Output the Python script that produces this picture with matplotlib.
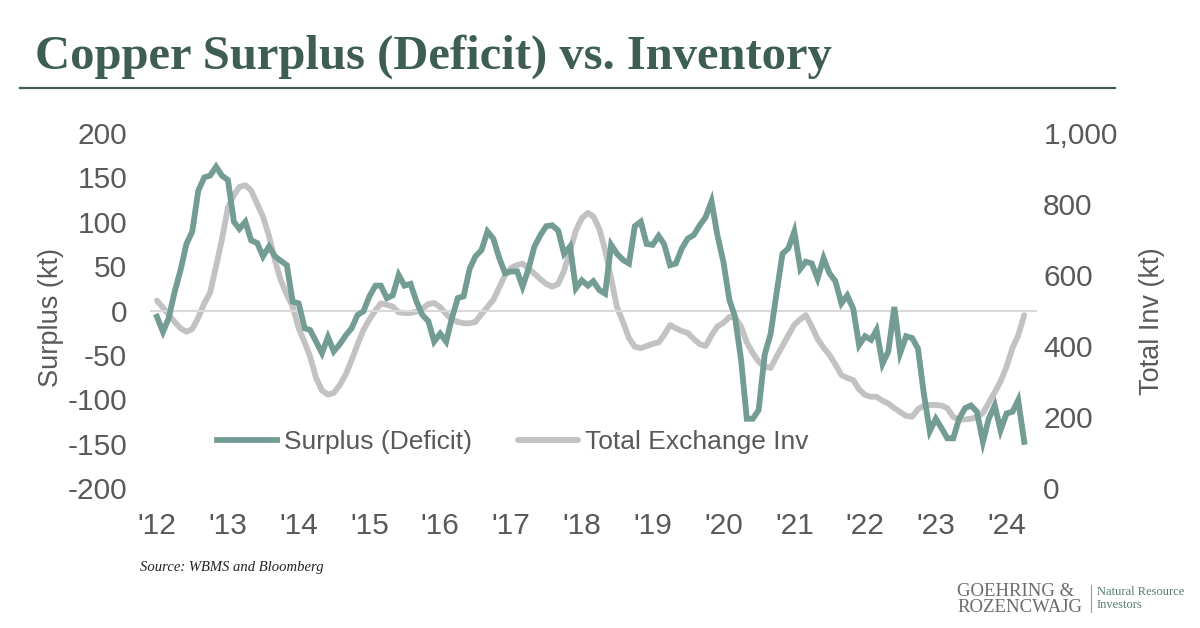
import numpy as np
import pandas as pd
import matplotlib
matplotlib.use("Agg")
import matplotlib.pyplot as plt

# monthly copper balance (kt), Jan 2012 - Apr 2024
surplus = [
    -7, -24, -9, 21, 45, 75, 89, 135, 150, 152, 162, 152,
    147, 100, 92, 100, 79, 76, 61, 72, 61, 56, 51, 10,
    8, -20, -22, -35, -48, -30, -46, -38, -28, -20, -5, -1,
    16, 28, 28, 14, 17, 40, 28, 30, 10, -5, -12, -35,
    -26, -35, -9, 14, 16, 47, 61, 68, 89, 81, 59, 42,
    44, 44, 27, 47, 72, 85, 95, 96, 90, 64, 72, 25,
    34, 28, 33, 23, 19, 74, 64, 57, 53, 95, 100, 75,
    74, 84, 75, 51, 53, 70, 81, 85, 96, 105, 123, 85,
    55, 12, -7, -55, -122, -122, -112, -50, -26, 19, 64, 70,
    89, 47, 55, 53, 36, 59, 42, 33, 8, 17, 2, -39,
    -29, -33, -22, -60, -46, 4, -48, -29, -31, -43, -95, -136,
    -122, -133, -144, -144, -122, -110, -107, -114, -148, -122, -107, -135,
    -116, -114, -101, -148,
]

# total exchange inventory (kt)
inventory = [
    528, 508, 488, 468, 450, 440, 448, 480, 520, 550, 625, 700,
    790, 825, 848, 853, 838, 800, 764, 710, 640, 585, 545, 511,
    450, 410, 370, 310, 275, 263, 268, 290, 320, 360, 405, 445,
    475, 500, 520, 516, 511, 495, 493, 493, 497, 505, 518, 521,
    510, 490, 475, 468, 464, 464, 468, 490, 510, 530, 565, 600,
    620, 628, 632, 618, 604, 588, 575, 567, 575, 612, 668, 725,
    760, 775, 765, 730, 670, 590, 510, 468, 422, 398, 394, 400,
    406, 410, 431, 459, 450, 442, 437, 420, 405, 400, 430, 455,
    465, 482, 480, 455, 410, 380, 356, 342, 338, 370, 400, 430,
    460, 475, 487, 455, 420, 395, 375, 348, 318, 310, 304, 278,
    262, 257, 257, 246, 238, 225, 214, 203, 201, 222, 232, 234,
    234, 232, 225, 200, 193, 193, 195, 200, 211, 240, 270, 300,
    342, 395, 430, 487,
]

years = list(range(2012, 2025))
year_labels = ["'%02d" % (y % 100) for y in years]
left_ticks = [200, 150, 100, 50, 0, -50, -100, -150, -200]
right_ticks = [0, 200, 400, 600, 800, 1000]

GREEN = "#739c94"
GREY_LINE = "#c2c2c2"
TXT = "#595959"
TITLE = "#3e5e55"

plt.rcParams["font.family"] = ["Liberation Sans", "DejaVu Sans"]

dates = pd.date_range("2012-01-01", periods=len(surplus), freq="MS")

fig = plt.figure(figsize=(12, 6.28), dpi=100)
fig.patch.set_facecolor("white")

ax = fig.add_axes([150 / 1200, 1 - 488 / 628, (1037 - 150) / 1200, 355 / 628])
ax2 = ax.twinx()

ax.axhline(0, color="#d9d9d9", lw=1.5, zorder=1)
l2, = ax2.plot(dates, inventory, color=GREY_LINE, lw=4.2, solid_capstyle="round",
               label="Total Exchange Inv", zorder=2)
l1, = ax.plot(dates, surplus, color=GREEN, lw=4.2, solid_joinstyle="miter",
              label="Surplus (Deficit)", zorder=3)
ax.set_zorder(ax2.get_zorder() + 1)
ax.patch.set_visible(False)

ax.set_ylim(-200, 200)
ax2.set_ylim(0, 1000)
ax.set_xlim(pd.Timestamp("2011-11-26"), pd.Timestamp("2024-06-06"))

ax.set_yticks(left_ticks)
ax.set_yticklabels([str(v) for v in left_ticks])
ax2.set_yticks(right_ticks)
ax2.set_yticklabels(["{:,}".format(v) for v in right_ticks])
ax.set_xticks([pd.Timestamp(f"{y}-01-01") for y in years])
ax.set_xticklabels(year_labels)

for a in (ax, ax2):
    for s in a.spines.values():
        s.set_visible(False)
    a.tick_params(length=0, labelsize=21.5, colors=TXT)
ax.tick_params(axis="y", pad=16.5)
ax.tick_params(axis="x", pad=17)
ax2.tick_params(axis="y", pad=4.5)

ax.set_ylabel("Surplus (kt)", fontsize=19.5, color=TXT)
ax.yaxis.set_label_coords(-0.097, 0.48)
ax2.set_ylabel("Total Inv (kt)", fontsize=19.5, color=TXT, rotation=90)
ax2.yaxis.set_label_coords(1.115, 0.47)

fig.legend(handles=[l1, l2], loc="center left", bbox_to_anchor=(204 / 1200, 1 - 442 / 628),
           ncol=2, frameon=False, fontsize=19, handlelength=2.25, handletextpad=0.28,
           columnspacing=1.75, borderpad=0, labelcolor=TXT)

fig.text(35 / 1200, 1 - 57 / 628, "Copper Surplus (Deficit) vs. Inventory", fontsize=35,
         family="Liberation Serif", weight="bold", color=TITLE, va="center", ha="left")
fig.add_artist(plt.Line2D([20 / 1200, 1115 / 1200], [1 - 88 / 628, 1 - 88 / 628],
                          color=TITLE, lw=1.6))

fig.text(140 / 1200, 1 - 567 / 628, "Source: WBMS and Bloomberg", fontsize=10.5,
         family="Liberation Serif", style="italic", color="#222222", va="center")

fig.text(957 / 1200, 1 - 591 / 628, "GOEHRING &", fontsize=13.5, family="Liberation Serif",
         color="#6b6b6b", va="center")
fig.text(957 / 1200, 1 - 607 / 628, "ROZENCWAJG", fontsize=13.5, family="Liberation Serif",
         color="#6b6b6b", va="center")
fig.add_artist(plt.Line2D([1091 / 1200, 1091 / 1200], [1 - 612 / 628, 1 - 585 / 628],
                          color="#9a9a9a", lw=0.8))
fig.text(1097 / 1200, 1 - 592 / 628, "Natural Resource", fontsize=9, family="Liberation Serif",
         color="#557a70", va="center")
fig.text(1097 / 1200, 1 - 605 / 628, "Investors", fontsize=9, family="Liberation Serif",
         color="#557a70", va="center")

fig.savefig("out.png", dpi=100, facecolor="white")
